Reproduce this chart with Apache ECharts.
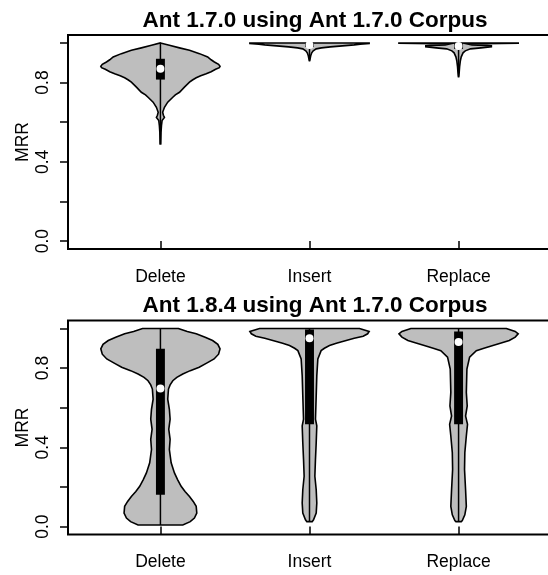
<!DOCTYPE html>
<html>
<head>
<meta charset="utf-8">
<script src="https://cdn.jsdelivr.net/npm/echarts@6/dist/echarts.min.js"></script>
<style>
  html, body { margin: 0; padding: 0; background: #fff; }
  #chart { width: 548px; height: 575px; }
</style>
</head>
<body>
<div id="chart"></div>
<script>
// violin outlines: MRR level (top -> bottom) and half width in x units (max 0.4)
const categories = ['Delete', 'Insert', 'Replace'];
const titles = ['Ant 1.7.0 using Ant 1.7.0 Corpus', 'Ant 1.8.4 using Ant 1.7.0 Corpus'];

// top panel
const topDeleteMrr = [1.0, 0.988, 0.975, 0.963, 0.946, 0.929, 0.915, 0.904, 0.892, 0.882, 0.875, 0.867, 0.855, 0.844, 0.834, 0.824, 0.813, 0.802, 0.777, 0.751, 0.738, 0.726, 0.701, 0.675, 0.65, 0.635, 0.624, 0.608, 0.582, 0.55, 0.49];
const topDeleteWidth = [0, 0.06, 0.128, 0.195, 0.262, 0.317, 0.34, 0.362, 0.39, 0.4, 0.395, 0.37, 0.34, 0.307, 0.27, 0.24, 0.215, 0.195, 0.161, 0.128, 0.1, 0.083, 0.049, 0.027, 0.015, 0.02, 0.027, 0.011, 0.007, 0.004, 0.002];
const topInsertMrr = [1.0, 0.997, 0.994, 0.99, 0.985, 0.98, 0.975, 0.97, 0.96, 0.95, 0.935, 0.92, 0.91];
const topInsertWidth = [0.4, 0.4, 0.34, 0.3, 0.22, 0.14, 0.08, 0.045, 0.025, 0.015, 0.008, 0.004, 0.001];
const topReplaceMrr = [1.0, 0.998, 0.995, 0.99, 0.986, 0.98, 0.975, 0.97, 0.96, 0.95, 0.93, 0.91, 0.88, 0.85, 0.83];
const topReplaceWidth = [0.4, 0.4, 0.06, 0.09, 0.22, 0.22, 0.15, 0.08, 0.045, 0.03, 0.018, 0.012, 0.007, 0.004, 0.001];

// bottom panel
const botDeleteMrr = [1.0, 0.985, 0.973, 0.955, 0.939, 0.92, 0.897, 0.87, 0.846, 0.825, 0.804, 0.787, 0.77, 0.753, 0.736, 0.715, 0.694, 0.643, 0.592, 0.542, 0.491, 0.44, 0.389, 0.322, 0.271, 0.237, 0.203, 0.177, 0.152, 0.127, 0.102, 0.068, 0.043, 0.025, 0.008];
const botDeleteWidth = [0.12, 0.18, 0.24, 0.3, 0.35, 0.385, 0.4, 0.39, 0.36, 0.31, 0.26, 0.2, 0.15, 0.11, 0.083, 0.065, 0.054, 0.049, 0.06, 0.065, 0.056, 0.065, 0.06, 0.072, 0.094, 0.115, 0.139, 0.165, 0.195, 0.22, 0.24, 0.244, 0.228, 0.2, 0.15];
const botInsertMrr = [1.0, 0.985, 0.973, 0.961, 0.95, 0.939, 0.925, 0.914, 0.9, 0.888, 0.846, 0.761, 0.66, 0.542, 0.508, 0.423, 0.339, 0.254, 0.186, 0.119, 0.068, 0.034, 0.025];
const botInsertWidth = [0.335, 0.4, 0.39, 0.36, 0.3, 0.246, 0.18, 0.134, 0.1, 0.078, 0.056, 0.049, 0.045, 0.04, 0.049, 0.045, 0.04, 0.036, 0.045, 0.049, 0.045, 0.027, 0.018];
const botReplaceMrr = [1.0, 0.985, 0.973, 0.956, 0.939, 0.925, 0.914, 0.9, 0.888, 0.855, 0.795, 0.677, 0.609, 0.558, 0.516, 0.457, 0.373, 0.288, 0.186, 0.102, 0.059, 0.03, 0.025];
const botReplaceWidth = [0.32, 0.38, 0.4, 0.38, 0.34, 0.28, 0.23, 0.17, 0.119, 0.074, 0.056, 0.052, 0.058, 0.047, 0.06, 0.052, 0.042, 0.04, 0.047, 0.052, 0.042, 0.025, 0.018];

// box stats per category: min, q1, median, q3, max
const topMin = [0.49, 0.91, 0.83];
const topQ1 = [0.815, 0.98, 0.97];
const topMedian = [0.87, 0.99, 0.985];
const topQ3 = [0.92, 1.0, 1.0];
const topMax = [1.0, 1.0, 1.0];
const botMin = [0.008, 0.025, 0.025];
const botQ1 = [0.161, 0.516, 0.516];
const botMedian = [0.697, 0.951, 0.931];
const botQ3 = [0.897, 0.995, 0.985];
const botMax = [1.0, 1.0, 1.0];

const yTicks = [0, 0.2, 0.4, 0.6, 0.8, 1.0];
const yLabels = [0, 0.4, 0.8];

const FONT = 'Liberation Sans, Arial, Helvetica, sans-serif';

const panels = [
  {
    profiles: [[topDeleteMrr, topDeleteWidth], [topInsertMrr, topInsertWidth], [topReplaceMrr, topReplaceWidth]],
    min: topMin, q1: topQ1, med: topMedian, q3: topQ3, max: topMax
  },
  {
    profiles: [[botDeleteMrr, botDeleteWidth], [botInsertMrr, botInsertWidth], [botReplaceMrr, botReplaceWidth]],
    min: botMin, q1: botQ1, med: botMedian, q3: botQ3, max: botMax
  }
];

const panelTop = [35, 320.5];

const makeRender = panel => (params, api) => {
  const i = params.dataIndex;
  const cx = i + 1;
  const [mrr, wid] = panel.profiles[i];
  const right = mrr.map((v, k) => api.coord([cx + wid[k], v]));
  const left = mrr.map((v, k) => api.coord([cx - wid[k], v])).reverse();
  const lo = api.coord([cx, panel.min[i]]);
  const hi = api.coord([cx, panel.max[i]]);
  const b1 = api.coord([cx - 0.03, panel.q3[i]]);
  const b2 = api.coord([cx + 0.03, panel.q1[i]]);
  const m = api.coord([cx, panel.med[i]]);
  return {
    type: 'group',
    children: [
      {
        type: 'polygon',
        shape: { points: right.concat(left) },
        style: { fill: '#bebebe', stroke: '#000', lineWidth: 1.6 }
      },
      {
        type: 'line',
        shape: { x1: lo[0], y1: lo[1], x2: hi[0], y2: hi[1] },
        style: { stroke: '#000', lineWidth: 1.5 }
      },
      {
        type: 'rect',
        shape: { x: b1[0], y: b1[1], width: b2[0] - b1[0], height: b2[1] - b1[1] },
        style: { fill: '#000' }
      },
      {
        type: 'circle',
        shape: { cx: m[0], cy: m[1], r: 4 },
        style: { fill: '#fff' }
      }
    ]
  };
};

const chart = echarts.init(document.getElementById('chart'));

const option = {
  animation: false,
  backgroundColor: '#fff',
  title: titles.map((t, k) => ({
    text: t,
    left: 310,
    textAlign: 'center',
    top: panelTop[k] - 31,
    textStyle: { fontFamily: FONT, fontWeight: 'bold', fontSize: 22.5, color: '#000' }
  })),
  grid: panelTop.map(t => ({
    left: 68, top: t, width: 483, height: 214,
    outerBoundsMode: 'none',
    show: true, borderColor: '#000', borderWidth: 2, backgroundColor: 'transparent'
  })),
  xAxis: panelTop.map((t, k) => ({
    gridIndex: k,
    type: 'value',
    min: 0.38,
    max: 3.62,
    axisLine: { show: false },
    splitLine: { show: false },
    axisTick: { customValues: [1, 2, 3], length: 8, lineStyle: { color: '#000', width: 1.5 } },
    axisLabel: {
      customValues: [1, 2, 3],
      formatter: v => categories[Math.round(v) - 1],
      margin: 19, fontSize: 17.5, color: '#000', fontFamily: FONT
    }
  })),
  yAxis: panelTop.map((t, k) => ({
    gridIndex: k,
    type: 'value',
    min: -0.04,
    max: 1.04,
    name: 'MRR',
    nameLocation: 'middle',
    nameGap: 36,
    nameMoveOverlap: false,
    nameRotate: 90,
    nameTextStyle: { fontSize: 17.5, color: '#000', fontFamily: FONT },
    axisLine: { show: false },
    splitLine: { show: false },
    axisTick: { customValues: yTicks, length: 8, lineStyle: { color: '#000', width: 1.5 } },
    axisLabel: {
      customValues: yLabels,
      formatter: v => v.toFixed(1),
      rotate: 90,
      margin: 16, fontSize: 17.5, color: '#000', fontFamily: FONT
    }
  })),
  series: panels.map((p, k) => ({
    type: 'custom',
    xAxisIndex: k,
    yAxisIndex: k,
    clip: false,
    data: categories.map((c, i) => [i + 1, p.med[i]]),
    renderItem: makeRender(p)
  }))
};

chart.setOption(option);
</script>
</body>
</html>
